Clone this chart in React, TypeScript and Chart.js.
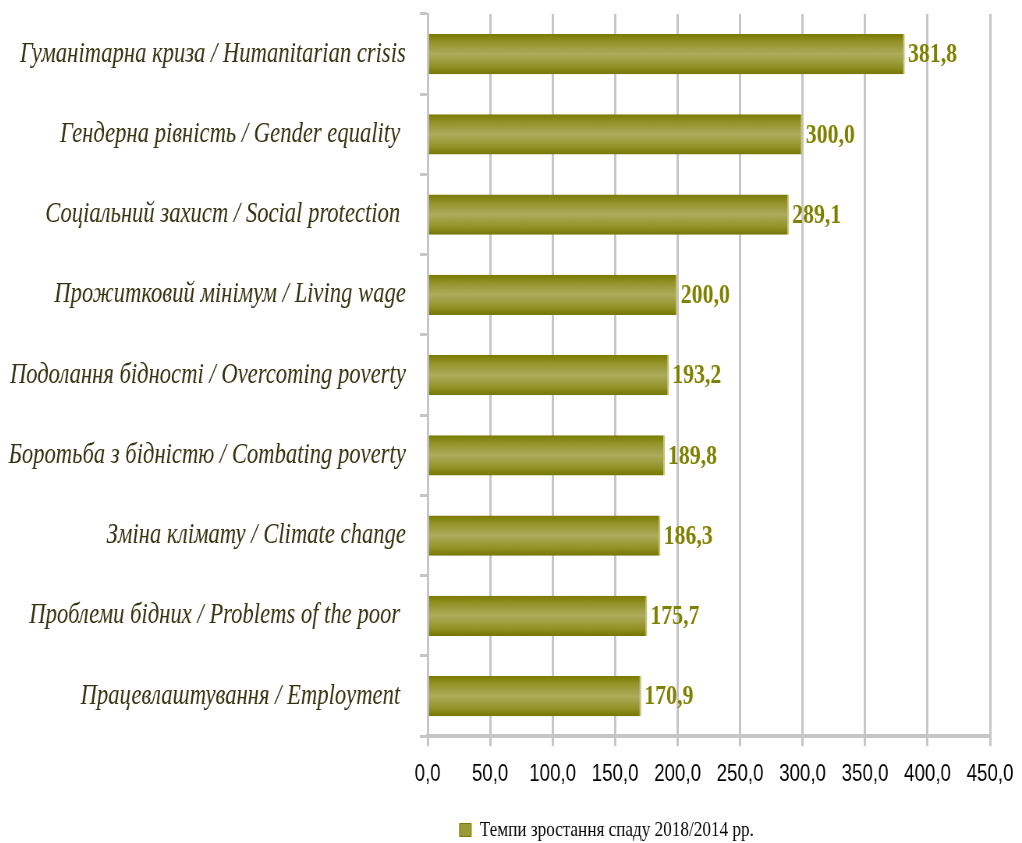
import React, { useEffect, useRef } from "react";
import { Chart, registerables } from "chart.js";

Chart.register(...registerables);

const categories = [
  "Гуманітарна криза / Humanitarian crisis",
  "Гендерна рівність / Gender equality ",
  "Соціальний захист / Social protection ",
  "Прожитковий мінімум / Living wage",
  "Подолання бідності / Overcoming poverty",
  "Боротьба з бідністю / Combating poverty",
  "Зміна клімату / Climate change",
  "Проблеми бідних / Problems of the poor ",
  "Працевлаштування / Employment ",
];
const values = [381.8, 300.0, 289.1, 200.0, 193.2, 189.8, 186.3, 175.7, 170.9];
const xTickLabels = ["0,0", "50,0", "100,0", "150,0", "200,0", "250,0", "300,0", "350,0", "400,0", "450,0"];
const seriesName = "Темпи зростання спаду 2018/2014 рр.";

const SX = 0.78;
const OUT_W = 1006;
const H = 835;
const LW = Math.round(OUT_W / SX);
const PLOT_RIGHT = 1259;
const BAR_PCT = 0.5;

export default function App() {
  const ref = useRef<HTMLCanvasElement | null>(null);
  useEffect(() => {
    if (!ref.current) return;
    const dataLabels = {
      id: "dataLabels",
      afterDatasetsDraw(chart: any) {
        const ctx = chart.ctx;
        const meta = chart.getDatasetMeta(0);
        ctx.save();
        ctx.font = "bold 28px 'Liberation Serif'";
        ctx.fillStyle = "#808000";
        ctx.textAlign = "left";
        ctx.textBaseline = "middle";
        meta.data.forEach((bar: any, i: number) => {
          ctx.fillText(values[i].toFixed(1).replace(".", ","), bar.x + 4, bar.y + 1);
        });
        ctx.restore();
      },
    };
    const legendShift = {
      id: "legendShift",
      afterLayout(chart: any) {
        const lg = chart.legend;
        if (lg) {
          lg.left += 138;
          lg.right += 138;
          const dy = 822 - (lg.top + 8 + 11);
          lg.top += dy;
          lg.bottom = lg.top + 80;
        }
      },
    };
    const chart = new Chart(ref.current, {
      type: "bar",
      data: {
        labels: categories,
        datasets: [
          {
            label: seriesName,
            data: values,
            backgroundColor: (c: any) => {
              if (c.type !== "data") return "#959530";
              const ys = c.chart.scales.y;
              if (!ys || !ys.height) return "#959530";
              const center = ys.getPixelForValue(c.dataIndex);
              const half = ((ys.height / categories.length) * BAR_PCT) / 2;
              const g = c.chart.ctx.createLinearGradient(0, center - half, 0, center + half);
              g.addColorStop(0, "#7a7a00");
              g.addColorStop(0.2, "#939329");
              g.addColorStop(0.5, "#acac5c");
              g.addColorStop(0.8, "#939329");
              g.addColorStop(1, "#767600");
              return g;
            },
            borderColor: "#c4c47c",
            borderWidth: { top: 0, bottom: 0, left: 0, right: 2 },
            borderSkipped: false,
            barPercentage: BAR_PCT,
            categoryPercentage: 1,
          },
        ],
      },
      options: {
        indexAxis: "y",
        animation: false,
        responsive: false,
        devicePixelRatio: 1,
        layout: { padding: { top: 6, right: LW - PLOT_RIGHT, left: 0, bottom: 0 } },
        scales: {
          x: {
            min: 0,
            max: 450,
            afterFit: (s: any) => {
              s.paddingLeft = 0;
              s.paddingRight = 0;
            },
            ticks: {
              stepSize: 50,
              color: "#000000",
              font: { family: "'Liberation Sans'", size: 24 },
              padding: 14,
              callback: (_v: any, i: number) => xTickLabels[i],
            },
            grid: { color: "#c6c6c6", lineWidth: 3, tickLength: 10, drawTicks: true },
            border: { display: true, color: "#c6c6c6", width: 4 },
          },
          y: {
            afterFit: (s: any) => {
              s.width = 538;
              s.paddingTop = 0;
              s.paddingBottom = 0;
            },
            ticks: {
              color: "#33330f",
              font: { family: "'Liberation Serif'", size: 29, style: "italic" },
              padding: 18,
              autoSkip: false,
            },
            grid: { offset: true, drawOnChartArea: false, drawTicks: true, tickLength: 10, color: "#c6c6c6", lineWidth: 3 },
            border: { display: true, color: "#c6c6c6", width: 3 },
          },
        },
        plugins: {
          legend: {
            position: "bottom",
            labels: {
              color: "#2f2f0a",
              font: { family: "'Liberation Serif'", size: 22 },
              boxWidth: 15,
              boxHeight: 13,
              padding: 8,
              generateLabels: () => [
                {
                  text: seriesName,
                  fillStyle: "#9a9a38",
                  strokeStyle: "#7a7a00",
                  lineWidth: 1,
                  hidden: false,
                  datasetIndex: 0,
                },
              ],
            },
          },
          tooltip: { enabled: false },
        },
      },
      plugins: [dataLabels, legendShift],
    } as any);
    return () => chart.destroy();
  }, []);
  return (
    <div style={{ width: OUT_W, height: H, overflow: "hidden" }}>
      <div style={{ width: LW, height: H, transform: `scaleX(${SX})`, transformOrigin: "0 0" }}>
        <canvas ref={ref} width={LW} height={H} style={{ display: "block" }} />
      </div>
    </div>
  );
}
